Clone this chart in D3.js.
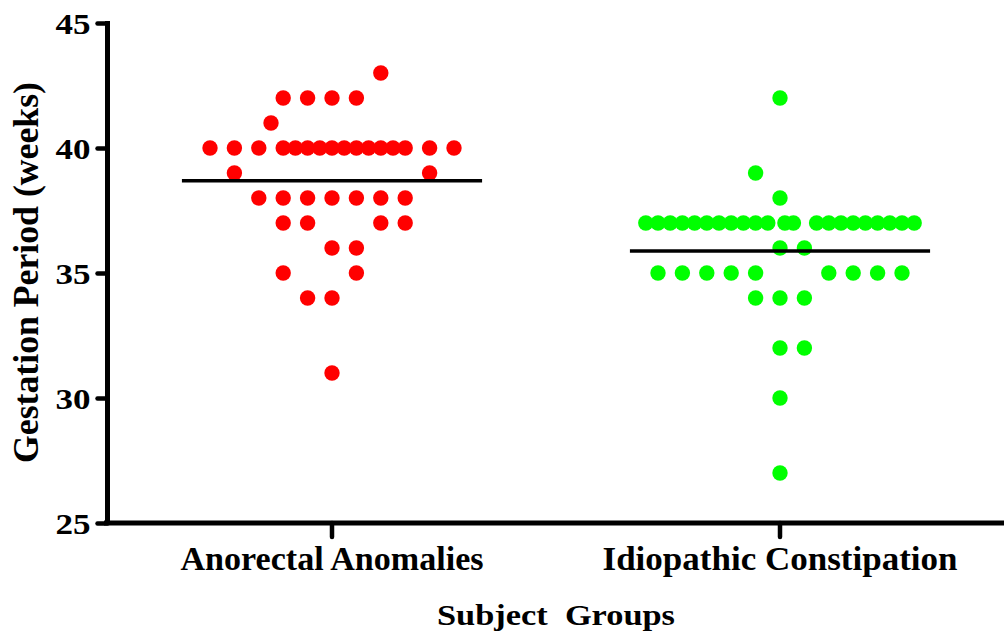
<!DOCTYPE html>
<html>
<head>
<meta charset="utf-8">
<script src="https://cdn.jsdelivr.net/npm/d3@7"></script>
<style>
html,body{margin:0;padding:0;background:#fff;}
svg{display:block;}
</style>
</head>
<body>
<svg id="chart" width="1004" height="635"></svg>
<script>
// ---- data ----
const categories = ["Anorectal Anomalies", "Idiopathic Constipation"];
const yTicks = [25, 30, 35, 40, 45];

// Anorectal Anomalies: gestation (weeks) and horizontal column slot
const anorectalValues = [43,
  42,42,42,42,
  41,
  40,40,40,40,40,40,40,40,40,40,40,40,40,40,40,40,
  39,39,
  38,38,38,38,38,38,38,
  37,37,37,37,
  36,36,
  35,35,
  34,34,
  31];
const anorectalSlots = [2,
  -2,-1,0,1,
  -2.5,
  -5,-4,-3,-2,-1.5,-1,-0.5,0,0.5,1,1.5,2,2.5,3,4,5,
  -4,4,
  -3,-2,-1,0,1,2,3,
  -2,-1,2,3,
  0,1,
  -2,1,
  -1,0,
  0];

// Idiopathic Constipation
const idiopathicValues = [42,
  39,
  38,
  37,37,37,37,37,37,37,37,37,37,37,37,37,37,37,37,37,37,37,37,37,37,
  36,36,
  35,35,35,35,35,35,35,35,35,
  34,34,34,
  32,32,
  30,
  27];
const idiopathicSlots = [0,
  -1,
  0,
  -5.5,-5,-4.5,-4,-3.5,-3,-2.5,-2,-1.5,-1,-0.5,0.2,0.55,1.5,2,2.5,3,3.5,4,4.5,5,5.5,
  0,1,
  -5,-4,-3,-2,-1,2,3,4,5,
  -1,0,1,
  0,1,
  0,
  0];

const groupValues = [anorectalValues, idiopathicValues];
const groupSlots = [anorectalSlots, idiopathicSlots];
const groupColors = ["#ff0000", "#00ff00"];

// ---- layout ----
const FONT = "'Liberation Serif','Times New Roman',serif";
const svg = d3.select("#chart");
const plotLeft = 108, plotRight = 1004, plotTop = 23, plotBottom = 523;

const x = d3.scaleBand().domain(categories).range([plotLeft, plotRight]).padding(0);
const y = d3.scaleLinear().domain([25, 45]).range([plotBottom, plotTop]);
const slot = d3.scaleLinear().domain([0, 1]).range([0, 24.4]);
const dotR = 7.7;
const meanHalf = x.bandwidth() * 0.335;

// dots
categories.forEach((cat, gi) => {
  const cx0 = x(cat) + x.bandwidth() / 2;
  const pts = groupValues[gi].map((v, i) => ({v, s: groupSlots[gi][i]}));
  svg.append("g").selectAll("circle").data(pts).join("circle")
    .attr("cx", d => cx0 + slot(d.s))
    .attr("cy", d => y(d.v))
    .attr("r", dotR)
    .attr("fill", groupColors[gi]);
  const m = d3.mean(groupValues[gi]);
  svg.append("line")
    .attr("x1", cx0 - meanHalf).attr("x2", cx0 + meanHalf)
    .attr("y1", y(m)).attr("y2", y(m))
    .attr("stroke", "#000").attr("stroke-width", 3.5);
});

// y axis
const yAxis = svg.append("g").attr("transform", `translate(${plotLeft - 0.5},0)`)
  .call(d3.axisLeft(y).tickValues(yTicks).tickSize(10).tickPadding(7).tickFormat(d3.format("d")));
yAxis.attr("font-family", FONT);
yAxis.select(".domain").attr("d", `M0,${plotTop - 2}V${plotBottom + 2}`)
  .attr("stroke", "#000").attr("stroke-width", 5);
yAxis.selectAll(".tick line").attr("stroke", "#000").attr("stroke-width", 4.5).attr("stroke-linecap", "round");
yAxis.selectAll(".tick text")
  .attr("font-size", 30).attr("font-weight", "bold").attr("dy", null).attr("y", 10)
  .attr("textLength", 35).attr("lengthAdjust", "spacingAndGlyphs");

// x axis
const xAxis = svg.append("g").attr("transform", `translate(0,${plotBottom})`)
  .call(d3.axisBottom(x).tickSize(14).tickPadding(0));
xAxis.attr("font-family", FONT);
xAxis.select(".domain").attr("d", `M${plotLeft - 4},0H${plotRight}`)
  .attr("stroke", "#000").attr("stroke-width", 5);
xAxis.selectAll(".tick line").attr("stroke", "#000").attr("stroke-width", 4.5).attr("stroke-linecap", "round");
const xLabelWidths = [303, 355];
xAxis.selectAll(".tick text")
  .attr("font-size", 34).attr("font-weight", "bold").attr("dy", null).attr("y", 47)
  .attr("textLength", (d, i) => xLabelWidths[i]).attr("lengthAdjust", "spacingAndGlyphs");

// axis titles
svg.append("text")
  .attr("x", (plotLeft + plotRight) / 2).attr("y", 625)
  .attr("text-anchor", "middle").attr("font-size", 30)
  .attr("font-family", FONT).attr("font-weight", "bold")
  .attr("textLength", 238).attr("lengthAdjust", "spacingAndGlyphs")
  .attr("xml:space", "preserve")
  .text("Subject  Groups");

svg.append("text")
  .attr("transform", "translate(38,272.5) rotate(-90)")
  .attr("text-anchor", "middle").attr("font-size", 35)
  .attr("font-family", FONT).attr("font-weight", "bold")
  .attr("textLength", 381).attr("lengthAdjust", "spacingAndGlyphs")
  .text("Gestation Period (weeks)");
</script>
</body>
</html>
